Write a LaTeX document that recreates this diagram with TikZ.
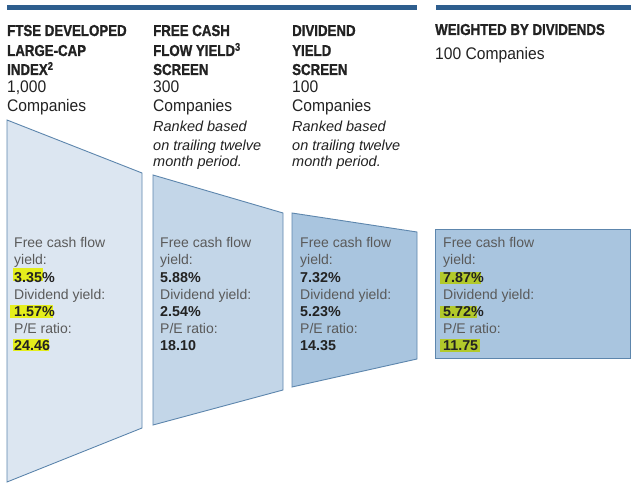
\documentclass[tikz,border=0pt]{standalone}
\usepackage{fontspec}
\setmainfont{Liberation Sans}
\newfontfamily\condfont[FakeStretch=0.84,BoldFeatures={FakeBold=1.2}]{Liberation Sans}
\newfontfamily\semicondfont[FakeStretch=0.93]{Liberation Sans}
\definecolor{barblue}{HTML}{2E5E8E}
\definecolor{edgeblue}{HTML}{5D86AD}
\definecolor{fillA}{HTML}{DCE6F1}
\definecolor{fillB}{HTML}{C3D6E8}
\definecolor{fillC}{HTML}{A9C5DF}
\definecolor{txtdark}{HTML}{222222}
\definecolor{txtgray}{HTML}{5A5A5A}
\definecolor{hlA}{HTML}{E4EE1C}
\definecolor{hlB}{HTML}{B2C92A}
\begin{document}
\begin{tikzpicture}[x=1pt,y=-1pt,
  bar/.style={fill=barblue,draw=none},
  funnel/.style={draw=edgeblue,line width=0.9pt,line join=miter},
  head/.style={anchor=base west,inner sep=0pt,text=txtdark,font=\condfont\bfseries\fontsize{15.8}{19}\selectfont},
  count/.style={anchor=base west,inner sep=0pt,text=txtdark,font=\semicondfont\fontsize{16.8}{19}\selectfont},
  note/.style={anchor=base west,inner sep=0pt,text=txtdark,font=\itshape\fontsize{14.5}{18}\selectfont},
  lbl/.style={anchor=base west,inner sep=0pt,text=txtgray,font=\fontsize{14}{17}\selectfont},
  val/.style={anchor=base west,inner sep=0pt,text=txtdark,font=\bfseries\fontsize{14.3}{17}\selectfont},
  hlone/.style={fill=hlA,draw=none},
  hltwo/.style={fill=hlB,draw=none}]
\useasboundingbox (0,0) rectangle (640,492);
\fill[white] (0,0) rectangle (640,492);
% top bars
\path[bar] (7,5) rectangle (417,10.5);
\path[bar] (436,5) rectangle (631,10.5);
% funnel shapes
\path[funnel,fill=fillA] (7,120) -- (142,173) -- (142,428) -- (7,482) -- cycle;
\path[funnel,fill=fillB] (153,175) -- (283,213) -- (283,390) -- (153,425) -- cycle;
\path[funnel,fill=fillC] (292,213) -- (417,232) -- (417,359) -- (292,387) -- cycle;
\path[funnel,fill=fillC] (435,229) rectangle (630,358);
% highlights
\path[hlone] (13,268) rectangle (43,280.5);
\path[hlone] (10,305) rectangle (53,318);
\path[hlone] (13,339) rectangle (49,351);
\path[hltwo] (440,272) rectangle (481,284);
\path[hltwo] (440,306) rectangle (477,318);
\path[hltwo] (440,339) rectangle (480,351.5);
% column 1 header
\node[head] (h1a) at (7,36) {FTSE DEVELOPED};
\node[head] (h1b) at (7,56) {LARGE-CAP};
\node[head] (h1c) at (7,75) {INDEX\textsuperscript{2}};
\node[count] (c1a) at (7,93) {1,000};
\node[count] (c1b) at (7,112) {Companies};
% column 2 header
\node[head] (h2a) at (153,36) {FREE CASH};
\node[head] (h2b) at (153,56) {FLOW YIELD\textsuperscript{3}};
\node[head] (h2c) at (153,75) {SCREEN};
\node[count] (c2a) at (153,93) {300};
\node[count] (c2b) at (153,112) {Companies};
\node[note] (n2a) at (153,132) {Ranked based};
\node[note] (n2b) at (153,150) {on trailing twelve};
\node[note] (n2c) at (153,167) {month period.};
% column 3 header
\node[head] (h3a) at (292,36) {DIVIDEND};
\node[head] (h3b) at (292,56) {YIELD};
\node[head] (h3c) at (292,75) {SCREEN};
\node[count] (c3a) at (292,93) {100};
\node[count] (c3b) at (292,112) {Companies};
\node[note] (n3a) at (292,132) {Ranked based};
\node[note] (n3b) at (292,150) {on trailing twelve};
\node[note] (n3c) at (292,167) {month period.};
% column 4 header
\node[head] (h4a) at (435,35) {WEIGHTED BY DIVIDENDS};
\node[count] (c4a) at (435,60) {100 Companies};
% column 1 values
\node[lbl] (l1a) at (14,247) {Free cash flow};
\node[lbl] (l1b) at (14,264) {yield:};
\node[val] (v1a) at (14,282) {3.35\%};
\node[lbl] (l1c) at (14,299) {Dividend yield:};
\node[val] (v1b) at (14,316.5) {1.57\%};
\node[lbl] (l1d) at (14,333.5) {P/E ratio:};
\node[val] (v1c) at (14,350.5) {24.46};
% column 2 values
\node[lbl] (l2a) at (160,247) {Free cash flow};
\node[lbl] (l2b) at (160,264) {yield:};
\node[val] (v2a) at (160,282) {5.88\%};
\node[lbl] (l2c) at (160,299) {Dividend yield:};
\node[val] (v2b) at (160,316.5) {2.54\%};
\node[lbl] (l2d) at (160,333.5) {P/E ratio:};
\node[val] (v2c) at (160,350.5) {18.10};
% column 3 values
\node[lbl] (l3a) at (300,247) {Free cash flow};
\node[lbl] (l3b) at (300,264) {yield:};
\node[val] (v3a) at (300,282) {7.32\%};
\node[lbl] (l3c) at (300,299) {Dividend yield:};
\node[val] (v3b) at (300,316.5) {5.23\%};
\node[lbl] (l3d) at (300,333.5) {P/E ratio:};
\node[val] (v3c) at (300,350.5) {14.35};
% column 4 values
\node[lbl] (l4a) at (443,247) {Free cash flow};
\node[lbl] (l4b) at (443,264) {yield:};
\node[val] (v4a) at (443,282) {7.87\%};
\node[lbl] (l4c) at (443,299) {Dividend yield:};
\node[val] (v4b) at (443,316.5) {5.72\%};
\node[lbl] (l4d) at (443,333.5) {P/E ratio:};
\node[val] (v4c) at (443,350.5) {11.75};
\end{tikzpicture}
\end{document}
